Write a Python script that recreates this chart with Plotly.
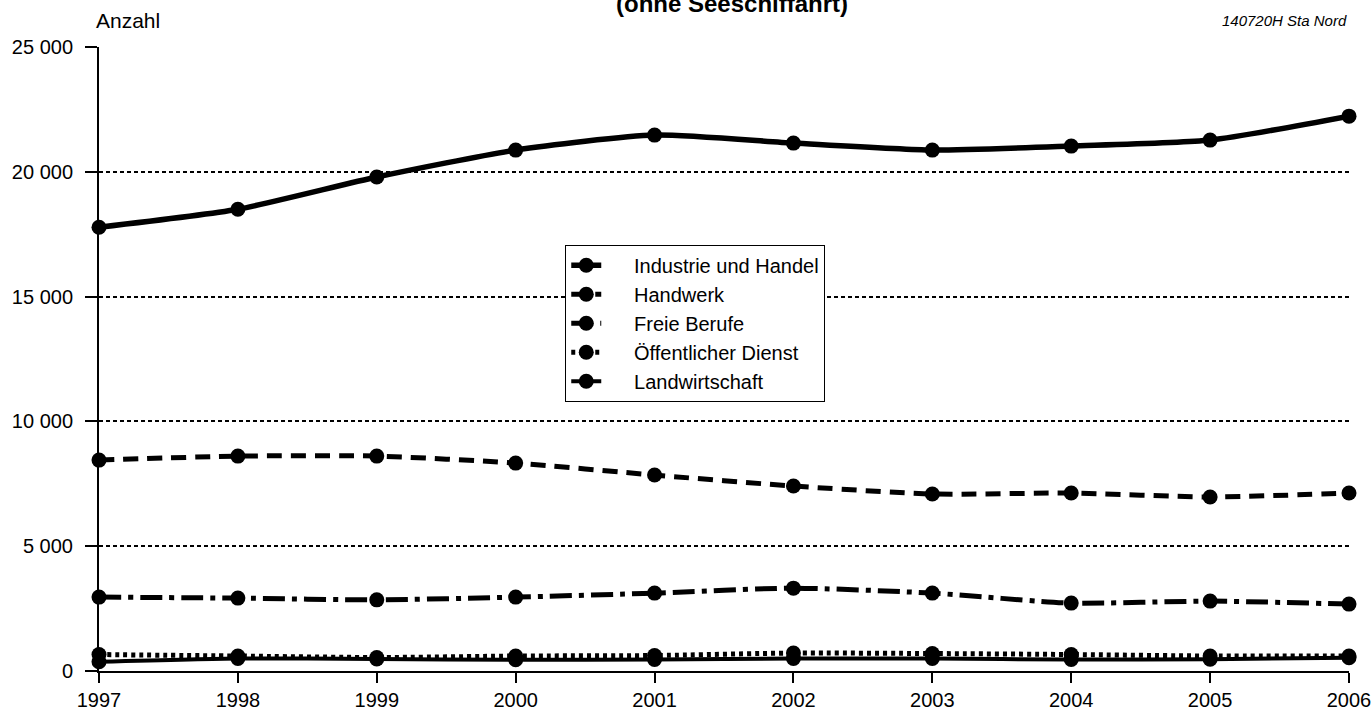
import plotly.graph_objects as go

years = [1997, 1998, 1999, 2000, 2001, 2002, 2003, 2004, 2005, 2006]
industrie = [17780, 18500, 19790, 20870, 21470, 21150, 20870, 21030, 21270, 22230]
handwerk = [8450, 8610, 8610, 8330, 7850, 7410, 7090, 7130, 6970, 7130]
freie = [2960, 2920, 2850, 2960, 3120, 3320, 3120, 2720, 2800, 2680]
oeffentlich = [660, 600, 540, 600, 620, 720, 700, 660, 600, 600]
landwirtschaft = [370, 500, 480, 450, 460, 500, 500, 460, 470, 530]

y_ticks = [0, 5000, 10000, 15000, 20000, 25000]
y_labels = ["0", "5 000", "10 000", "15 000", "20 000", "25 000"]

series = [
    ("Industrie und Handel", industrie, "solid", 5.5),
    ("Handwerk", handwerk, "15px,9px", 5),
    ("Freie Berufe", freie, "22px,7px,5px,7px", 5),
    ("Öffentlicher Dienst", oeffentlich, "4px,4px", 5),
    ("Landwirtschaft", landwirtschaft, "solid", 4),
]

pad = "\u00a0" * 5

fig = go.Figure()
for name, vals, dash, w in series:
    fig.add_trace(go.Scatter(
        x=years, y=vals, name=pad + name, mode="lines+markers",
        line=dict(color="black", width=w, dash=dash, shape="spline", smoothing=0.6),
        marker=dict(color="black", size=15, symbol="circle"),
        cliponaxis=False,
    ))

fig.update_layout(
    width=1372, height=715,
    margin=dict(l=99, r=23, t=47, b=44),
    paper_bgcolor="white", plot_bgcolor="white",
    font=dict(family="Liberation Sans, Arial, sans-serif", size=20, color="black"),
    showlegend=True,
    legend=dict(
        x=0.373, y=0.683, xanchor="left", yanchor="top",
        bordercolor="black", borderwidth=1, bgcolor="white",
        font=dict(size=20), tracegroupgap=0,
    ),
    xaxis=dict(
        range=[1997, 2006], tickvals=years, ticktext=[str(y) for y in years],
        showgrid=False, showline=True, linecolor="black", linewidth=2,
        ticks="outside", ticklen=10, tickcolor="black", tickwidth=2,
        ticklabelstandoff=0, zeroline=False, automargin=False,
    ),
    yaxis=dict(
        range=[0, 25000], tickvals=y_ticks, ticktext=y_labels,
        showgrid=True, gridcolor="black", griddash="4px,3px", gridwidth=1.5,
        showline=True, linecolor="black", linewidth=2,
        ticks="outside", ticklen=12, tickcolor="black", tickwidth=2,
        ticklabelstandoff=8, zeroline=False, automargin=False,
    ),
    annotations=[
        dict(text="Anzahl", xref="paper", yref="paper", x=-0.004, y=(671 - 21) / 624,
             xanchor="left", yanchor="middle", showarrow=False, font=dict(size=21)),
        dict(text="<i>140720H Sta Nord</i>", xref="paper", yref="paper", x=1.0, y=(671 - 21) / 624,
             xanchor="right", yanchor="middle", showarrow=False, font=dict(size=15)),
        dict(text="<b>(ohne Seeschiffahrt)</b>", xref="paper", yref="paper", x=0.506, y=(671 - 3) / 624,
             xanchor="center", yanchor="middle", showarrow=False, font=dict(size=24)),
    ],
)

fig.write_html(
    "out.html",
    config={"displayModeBar": False},
    post_script="document.body.style.margin='0';document.body.style.overflow='hidden';",
)
